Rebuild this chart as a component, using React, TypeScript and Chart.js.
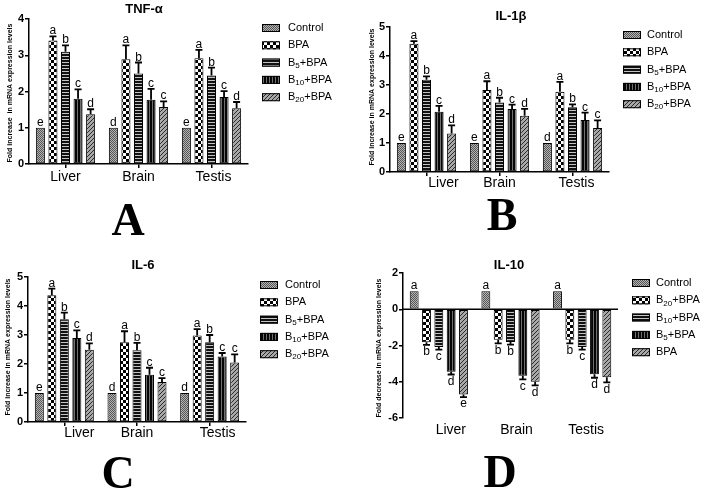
import { useEffect, useRef } from "react";
import { Chart, registerables } from "chart.js";
Chart.register(...registerables);

const FONT = '"Liberation Sans", Arial, sans-serif';
const organs = ["Liver", "Brain", "Testis"];
const namesUp = ["Control", "BPA", "B5+BPA", "B10+BPA", "B20+BPA"];
const namesDown = ["Control", "B20+BPA", "B10+BPA", "B5+BPA", "BPA"];

// Panel A: TNF-α
const tnfControl = [1.0, 1.0, 1.0];
const tnfBPA = [3.41, 2.89, 2.92];
const tnfB5 = [3.1, 2.5, 2.44];
const tnfB10 = [1.8, 1.77, 1.85];
const tnfB20 = [1.37, 1.57, 1.54];
const tnfErr = [[0, 0, 0], [0.11, 0.38, 0.23], [0.17, 0.3, 0.22], [0.26, 0.3, 0.16], [0.14, 0.16, 0.17]];
const tnfLetters = [["e", "d", "e"], ["a", "a", "a"], ["b", "b", "b"], ["c", "c", "c"], ["d", "c", "d"]];

// Panel B: IL-1β
const il1Control = [1.0, 1.0, 1.0];
const il1BPA = [4.42, 2.83, 2.77];
const il1B5 = [3.18, 2.4, 2.23];
const il1B10 = [2.08, 2.17, 1.79];
const il1B20 = [1.33, 1.94, 1.52];
const il1Err = [[0, 0, 0], [0.09, 0.3, 0.34], [0.12, 0.16, 0.1], [0.2, 0.15, 0.26], [0.28, 0.24, 0.26]];
const il1Letters = [["e", "e", "d"], ["a", "a", "a"], ["b", "b", "b"], ["c", "c", "c"], ["d", "d", "c"]];

// Panel C: IL-6
const il6Control = [1.0, 1.0, 1.0];
const il6BPA = [4.37, 2.75, 2.98];
const il6B5 = [3.54, 2.47, 2.75];
const il6B10 = [2.9, 1.63, 2.26];
const il6B20 = [2.49, 1.38, 2.05];
const il6Err = [[0, 0, 0], [0.23, 0.38, 0.22], [0.23, 0.26, 0.25], [0.26, 0.24, 0.12], [0.22, 0.13, 0.28]];
const il6Letters = [["e", "d", "d"], ["a", "a", "a"], ["b", "b", "b"], ["c", "c", "c"], ["d", "c", "c"]];

// Panel D: IL-10
const il10Control = [1.0, 1.0, 1.0];
const il10B20 = [-1.82, -1.68, -1.68];
const il10B10 = [-2.08, -1.8, -2.08];
const il10B5 = [-3.45, -3.67, -3.58];
const il10BPA = [-4.7, -4.0, -3.75];
const il10Err = [[0, 0, 0], [0.15, 0.2, 0.2], [0.15, 0.15, 0.15], [0.15, 0.2, 0.2], [0.15, 0.2, 0.28]];
const il10Letters = [["a", "a", "a"], ["b", "b", "b"], ["c", "b", "c"], ["d", "c", "d"], ["e", "d", "d"]];

type Panel = {
  title: string; yTitle: string; names: string[]; values: number[][]; errors: number[][]; letters: string[][];
  min: number; max: number; step: number;
  l: number; r: number; t: number; b: number; w: number; h: number; left: number; top: number;
  titleX: number; titleY: number; yTitleX: number; yTitleY: number;
  labelY: number; labelDx: number[];
  boxX: number; textX: number; legY0: number; legStep: number;
  big: string; bigX: number; bigY: number; zeroAxis: boolean;
};

const panels: Panel[] = [
  {
    title: "TNF-\u03b1", yTitle: "Fold increase  in mRNA expression levels", names: namesUp,
    values: [tnfControl, tnfBPA, tnfB5, tnfB10, tnfB20], errors: tnfErr, letters: tnfLetters,
    min: 0, max: 4, step: 1, l: 29, r: 248, t: 19, b: 164, w: 354, h: 250, left: 0, top: 0,
    titleX: 144, titleY: 9, yTitleX: 10, yTitleY: 93, labelY: 177, labelDx: [0, 0, 2],
    boxX: 262, textX: 288, legY0: 28, legStep: 17.3, big: "A", bigX: 128, bigY: 235, zeroAxis: false,
  },
  {
    title: "IL-1\u03b2", yTitle: "Fold increase in mRNA expression levels", names: namesUp,
    values: [il1Control, il1BPA, il1B5, il1B10, il1B20], errors: il1Err, letters: il1Letters,
    min: 0, max: 5, step: 1, l: 36, r: 255, t: 27, b: 172, w: 354, h: 250, left: 354, top: 0,
    titleX: 157, titleY: 16, yTitleX: 18, yTitleY: 97, labelY: 183, labelDx: [17, 0, 4],
    boxX: 269, textX: 293, legY0: 35, legStep: 17.3, big: "B", bigX: 148, bigY: 230, zeroAxis: false,
  },
  {
    title: "IL-6", yTitle: "Fold increase in mRNA expression levels", names: namesUp,
    values: [il6Control, il6BPA, il6B5, il6B10, il6B20], errors: il6Err, letters: il6Letters,
    min: 0, max: 5, step: 1, l: 28, r: 246, t: 27, b: 172, w: 354, h: 249, left: 0, top: 250,
    titleX: 143, titleY: 15, yTitleX: 8, yTitleY: 97, labelY: 183, labelDx: [15, 0, 8],
    boxX: 260, textX: 285, legY0: 35, legStep: 17.3, big: "C", bigX: 118, bigY: 238, zeroAxis: false,
  },
  {
    title: "IL-10", yTitle: "Fold decrease in mRNA expression levels", names: namesDown,
    values: [il10Control, il10B20, il10B10, il10B5, il10BPA], errors: il10Err, letters: il10Letters,
    min: -6, max: 2, step: 2, l: 49, r: 264, t: 23, b: 168, w: 354, h: 249, left: 354, top: 250,
    titleX: 155, titleY: 15, yTitleX: 25, yTitleY: 98, labelY: 180, labelDx: [12, 6, 4],
    boxX: 278, textX: 302, legY0: 33, legStep: 17.3, big: "D", bigX: 146, bigY: 237, zeroAxis: true,
  },
];

function makePatterns(ctx: CanvasRenderingContext2D) {
  const mk = (w: number, h: number, draw: (g: CanvasRenderingContext2D) => void) => {
    const c = document.createElement("canvas");
    c.width = w; c.height = h;
    const g = c.getContext("2d")!;
    draw(g);
    return ctx.createPattern(c, "repeat")!;
  };
  const control = mk(2, 2, (g) => {
    g.fillStyle = "#b4b4b4"; g.fillRect(0, 0, 2, 2);
    g.fillStyle = "#555"; g.fillRect(0, 0, 1, 1); g.fillRect(1, 1, 1, 1);
  });
  const checker = mk(6, 6, (g) => {
    g.fillStyle = "#000"; g.fillRect(0, 0, 6, 6);
    g.fillStyle = "#fff"; g.fillRect(0, 0, 3, 3); g.fillRect(3, 3, 3, 3);
  });
  const hstripe = mk(3, 3, (g) => {
    g.fillStyle = "#111"; g.fillRect(0, 0, 3, 3);
    g.fillStyle = "#c4c4c4"; g.fillRect(0, 2, 3, 1);
  });
  const vstripe = mk(3, 3, (g) => {
    g.fillStyle = "#050505"; g.fillRect(0, 0, 3, 3);
    g.fillStyle = "#707070"; g.fillRect(2, 0, 1, 3);
  });
  const diag = mk(4, 4, (g) => {
    g.fillStyle = "#a8a8a8"; g.fillRect(0, 0, 4, 4);
    g.fillStyle = "#2a2a2a"; for (let i = 0; i < 4; i++) g.fillRect(3 - i, i, 1, 1);
  });
  return [control, checker, hstripe, vstripe, diag];
}

function drawRich(ctx: CanvasRenderingContext2D, text: string, x: number, y: number) {
  const m = /^B(\d+)(\+BPA)$/.exec(text);
  ctx.textBaseline = "middle";
  ctx.textAlign = "left";
  ctx.font = `11px ${FONT}`;
  if (!m) { ctx.fillText(text, x, y); return; }
  ctx.fillText("B", x, y);
  let cx = x + ctx.measureText("B").width;
  ctx.font = `8px ${FONT}`;
  ctx.fillText(m[1], cx, y + 3);
  cx += ctx.measureText(m[1]).width;
  ctx.font = `11px ${FONT}`;
  ctx.fillText(m[2], cx, y);
}

function PanelChart({ p }: { p: Panel }) {
  const ref = useRef<HTMLCanvasElement>(null);
  useEffect(() => {
    const canvas = ref.current!;
    const ctx = canvas.getContext("2d")!;
    const pats = makePatterns(ctx);
    const yW = 25;
    const xH = p.zeroAxis ? 0 : 6;
    const plugin = {
      id: "panelExtras",
      afterDatasetsDraw(chart: any) {
        const c = chart.ctx as CanvasRenderingContext2D;
        const ys = chart.scales.y;
        c.save();
        if (p.zeroAxis) {
          const y0 = ys.getPixelForValue(0);
          c.strokeStyle = "#000"; c.lineWidth = 1.5;
          c.beginPath(); c.moveTo(chart.chartArea.left, y0); c.lineTo(chart.chartArea.right, y0); c.stroke();
        }
        p.values.forEach((vals, i) => {
          const meta = chart.getDatasetMeta(i);
          vals.forEach((v, j) => {
            const bar = meta.data[j];
            const e = p.errors[i][j];
            const x = bar.x;
            c.strokeStyle = "#000"; c.lineWidth = 1.8; c.fillStyle = "#000";
            c.font = `12px ${FONT}`; c.textAlign = "center";
            if (v >= 0) {
              const yt = ys.getPixelForValue(v + e);
              if (e > 0) {
                c.beginPath(); c.moveTo(x, bar.y); c.lineTo(x, yt);
                c.moveTo(x - 3.5, yt); c.lineTo(x + 3.5, yt); c.stroke();
              }
              c.textBaseline = "alphabetic";
              c.fillText(p.letters[i][j], x, yt - 2);
            } else {
              const yb = ys.getPixelForValue(v - e);
              if (e > 0) {
                c.beginPath(); c.moveTo(x, bar.y); c.lineTo(x, yb);
                c.moveTo(x - 3.5, yb); c.lineTo(x + 3.5, yb); c.stroke();
              }
              c.textBaseline = "top";
              c.fillText(p.letters[i][j], x, yb + 1);
            }
          });
        });
        c.restore();
      },
      afterDraw(chart: any) {
        const c = chart.ctx as CanvasRenderingContext2D;
        c.save();
        c.fillStyle = "#000";
        c.font = `bold 13px ${FONT}`; c.textAlign = "center"; c.textBaseline = "middle";
        c.fillText(p.title, p.titleX, p.titleY);
        c.save();
        c.translate(p.yTitleX, p.yTitleY); c.rotate(-Math.PI / 2);
        c.font = `bold 7px ${FONT}`; c.textAlign = "center"; c.textBaseline = "middle";
        c.fillText(p.yTitle, 0, 0);
        c.restore();
        const xs = chart.scales.x;
        c.font = `14px ${FONT}`; c.textAlign = "center"; c.textBaseline = "middle";
        organs.forEach((o, k) => {
          c.fillText(o, xs.getPixelForValue(k) + p.labelDx[k], p.labelY);
        });
        p.names.forEach((n, i) => {
          const y = p.legY0 + i * p.legStep;
          c.fillStyle = pats[i];
          c.fillRect(p.boxX, y - 4, 18, 8);
          c.strokeStyle = "#000"; c.lineWidth = 1;
          c.strokeRect(p.boxX + 0.5, y - 3.5, 17, 7);
          c.fillStyle = "#000";
          drawRich(c, n, p.textX, y);
        });
        c.font = `bold 46px "Liberation Serif", "Times New Roman", serif`;
        c.textAlign = "center"; c.textBaseline = "alphabetic";
        c.fillText(p.big, p.bigX, p.bigY);
        c.restore();
      },
    };
    const chart = new Chart(canvas, {
      type: "bar",
      data: {
        labels: organs,
        datasets: p.values.map((vals, i) => ({
          label: p.names[i],
          data: vals,
          backgroundColor: pats[i],
          borderColor: "#000",
          borderWidth: 1,
          borderSkipped: false,
          categoryPercentage: 0.86,
          barPercentage: 0.72,
        })),
      },
      options: {
        animation: false,
        responsive: false,
        maintainAspectRatio: false,
        events: [],
        layout: {
          padding: { left: p.l - yW, right: p.w - p.r, top: p.t, bottom: p.h - p.b - xH },
        },
        plugins: { legend: { display: false }, tooltip: { enabled: false }, title: { display: false } },
        scales: {
          x: {
            display: !p.zeroAxis,
            grid: { display: true, drawOnChartArea: false, drawTicks: true, tickLength: 4, offset: false, color: "#000", lineWidth: 1.5 },
            border: { display: true, color: "#000", width: 1.5 },
            ticks: { display: false },
            afterFit: (s: any) => { s.height = xH; },
          },
          y: {
            min: p.min, max: p.max,
            ticks: { stepSize: p.step, color: "#000", padding: 1, font: { family: FONT, size: 11, weight: "bold" } },
            grid: { display: true, drawOnChartArea: false, drawTicks: true, tickLength: 4, color: "#000", lineWidth: 1.5 },
            border: { display: true, color: "#000", width: 1.5 },
            afterFit: (s: any) => { s.width = yW; },
          },
        },
      } as any,
      plugins: [plugin],
    });
    return () => chart.destroy();
  }, []);
  return (
    <canvas
      ref={ref}
      width={p.w}
      height={p.h}
      style={{ position: "absolute", left: p.left, top: p.top, width: p.w, height: p.h }}
    />
  );
}

export default function App() {
  return (
    <div style={{ position: "absolute", left: 0, top: 0, width: 708, height: 499, background: "#fff", overflow: "hidden" }}>
      {panels.map((p, i) => (
        <PanelChart key={i} p={p} />
      ))}
    </div>
  );
}
